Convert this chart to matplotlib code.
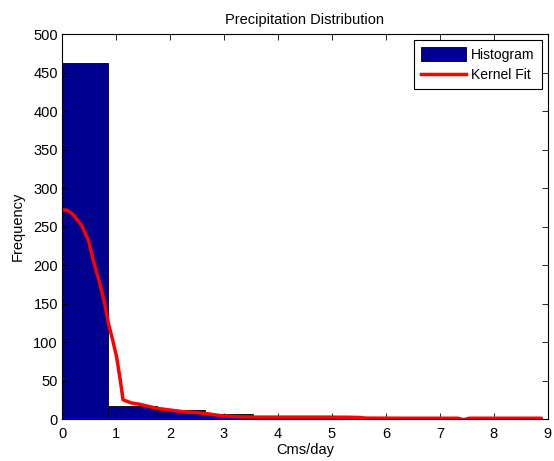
import numpy as np
import matplotlib
matplotlib.use("Agg")
import matplotlib.pyplot as plt

plt.rcParams['font.family'] = ['Liberation Sans', 'DejaVu Sans']

# histogram (10 equal bins, first one starts just left of 0)
bin_edges = np.linspace(-0.036, 8.894, 11)
counts = [463, 17, 12, 6, 2, 3, 1, 0, 0, 1]

# kernel fit curve
kx = [0.0, 0.1, 0.2, 0.36, 0.49, 0.58, 0.7, 0.79, 0.86, 0.94, 1.01, 1.08, 1.13,
      1.28, 1.45, 1.75, 1.97, 2.25, 2.46, 2.68, 2.98, 3.25, 3.55, 3.94, 4.43, 4.93,
      5.32, 5.52, 5.62, 6.4, 6.9, 7.34, 7.44, 7.54, 7.88, 8.37, 8.87]
ky = [272, 271, 266, 252, 232, 206, 176, 150, 124, 102, 81, 50, 25,
      21, 19, 14, 12, 9.5, 8.5, 7, 4, 3, 2.5, 2.5, 2.5, 2.5,
      2.3, 2, 1.2, 1, 1, 1, -1, 1, 1, 1, 1]

fig = plt.figure(figsize=(5.54, 4.61), dpi=100)
ax = fig.add_axes([0.112, 0.091, 0.877, 0.835])

bars = ax.bar(bin_edges[:-1], counts, width=np.diff(bin_edges), align='edge',
              color='#00008F', edgecolor='black', linewidth=0.6)
ax.plot([0, bin_edges[-1]], [0, 0], color='#0000FF', lw=1.2)
line, = ax.plot(kx, ky, color='red', lw=2.5)

ax.set_xlim(0, 9)
ax.set_ylim(0, 500)
ax.set_xticks(range(0, 10))
ax.set_yticks(range(0, 501, 50))
ax.tick_params(direction='in', top=True, right=True, labelsize=10.5, length=4,
               width=0.6, pad=6)
ax.tick_params(axis='y', pad=3)
for s in ax.spines.values():
    s.set_linewidth(0.8)

ax.set_title('Precipitation Distribution', fontsize=10.5, pad=7)
ax.set_xlabel('Cms/day', fontsize=10.5, labelpad=1)
ax.set_ylabel('Frequency', fontsize=10.5, labelpad=6)

leg = ax.legend([bars, line], ['Histogram', 'Kernel Fit'], loc='upper right',
                fontsize=10, fancybox=False, framealpha=1, edgecolor='black',
                borderaxespad=0.45, handlelength=3.25, handleheight=1.1,
                handletextpad=0.4, borderpad=0.5, labelspacing=0.45)
leg.get_frame().set_linewidth(0.8)

fig.savefig('out.png', dpi=100)
